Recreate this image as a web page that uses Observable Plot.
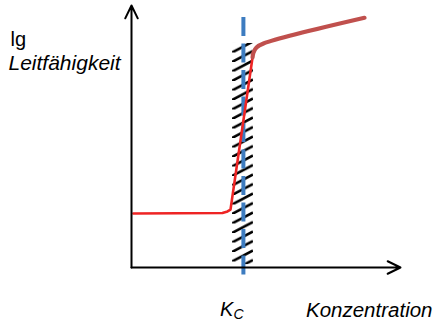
<!DOCTYPE html>
<html><head><meta charset="utf-8">
<script src="https://cdn.jsdelivr.net/npm/d3@7"></script>
<script src="https://cdn.jsdelivr.net/npm/@observablehq/plot@0.6"></script>
<style>html,body{margin:0;padding:0;background:#fff;} svg{display:block;}</style>
</head><body><div id="chart"></div>
<script>
// Conductivity curve (arbitrary units: concentration 0..10, lg conductivity 0..10)
const lowerConc = [0.07, 3.38, 3.57, 3.68, 4.50];
const lowerLg   = [2.06, 2.08, 2.14, 2.21, 8.02];
const upperConc = [4.50, 4.535, 4.647, 4.907, 8.662];
const upperLg   = [8.02, 8.21, 8.40, 8.55, 9.53];
// critical concentration (Kc) and its hatched range
const kc = [4.16];
const kcLg = [9.54, -0.31];
const kcRange = [3.755, 4.535];
const kcRangeLg = [0.11, 8.55];
// axis extents
const axisMax = [10, 10];
// labels
const yLabel1 = "lg";
const yLabel2 = "Leitfähigkeit";
const kcLabel = ["K", "C"];
const xLabel = "Konzentration";

(function () {
const lower = lowerConc.map((c, i) => ({c, v: lowerLg[i]}));
const upper = upperConc.map((c, i) => ({c, v: upperLg[i]}));
const axes = [
  {x1: 0, y1: 0, x2: axisMax[0], y2: 0},
  {x1: 0, y1: 0, x2: 0, y2: axisMax[1]}
];
const font = "Liberation Sans, Arial, sans-serif";

const plot = Plot.plot({
  width: 440, height: 321,
  marginLeft: 131, marginRight: 40, marginTop: 5, marginBottom: 54,
  x: {domain: [0, 10], axis: null},
  y: {domain: [0, 10], axis: null},
  style: {fontFamily: font, background: "#fff", overflow: "visible"},
  marks: [
    Plot.rect([{x1: kcRange[0], x2: kcRange[1], y1: kcRangeLg[0], y2: kcRangeLg[1]}],
      {x1: "x1", x2: "x2", y1: "y1", y2: "y2", fill: "url(#hatch)"}),
    Plot.ruleX(kc, {x: d => d, y1: kcLg[0], y2: kcLg[1], stroke: "#3d7cc0", strokeWidth: 4, strokeDasharray: "19,7.5"}),
    Plot.line(lower, {x: "c", y: "v", stroke: "#ee2424", strokeWidth: 2.6, strokeLinejoin: "round"}),
    Plot.line(upper, {x: "c", y: "v", stroke: "#c0504d", strokeWidth: 4.2, strokeLinejoin: "round", curve: "catmull-rom"}),
    Plot.arrow(axes, {x1: "x1", y1: "y1", x2: "x2", y2: "y2", stroke: "#000", strokeWidth: 2, headLength: 10.7, headAngle: 52}),
    Plot.text([yLabel1], {frameAnchor: "top-left", text: d => d, dx: -121, dy: 40, lineAnchor: "bottom", textAnchor: "start", fontSize: 20, fill: "#000"}),
    Plot.text([yLabel2], {frameAnchor: "top-left", text: d => d, dx: -123, dy: 64, lineAnchor: "bottom", textAnchor: "start", fontSize: 21, fontStyle: "italic", fill: "#000"}),
    Plot.text(kc, {x: d => d, frameAnchor: "bottom", text: () => kcLabel[0], dx: -10, dy: 48, lineAnchor: "bottom", textAnchor: "end", fontSize: 20, fontStyle: "italic", fill: "#000"}),
    Plot.text(kc, {x: d => d, frameAnchor: "bottom", text: () => kcLabel[1], dx: -10, dy: 51, lineAnchor: "bottom", textAnchor: "start", fontSize: 14, fontStyle: "italic", fill: "#000"}),
    Plot.text([xLabel], {frameAnchor: "bottom-right", text: d => d, dx: 32, dy: 49, lineAnchor: "bottom", textAnchor: "end", fontSize: 20.5, fontStyle: "italic", fill: "#000"})
  ]
});

// hatch pattern aligned with the Kc range rectangle
const sx = plot.scale("x"), sy = plot.scale("y");
const left = sx.apply(kcRange[0]), right = sx.apply(kcRange[1]);
const topPx = sy.apply(kcRangeLg[1]);
const w = right - left, h = 9.5, rise = 11;
const ns = "http://www.w3.org/2000/svg";
const defs = document.createElementNS(ns, "defs");
const pat = document.createElementNS(ns, "pattern");
pat.setAttribute("id", "hatch");
pat.setAttribute("patternUnits", "userSpaceOnUse");
pat.setAttribute("x", left); pat.setAttribute("y", topPx);
pat.setAttribute("width", w); pat.setAttribute("height", h);
const bg = document.createElementNS(ns, "rect");
bg.setAttribute("width", w); bg.setAttribute("height", h); bg.setAttribute("fill", "#fff");
pat.appendChild(bg);
for (const c of [h, 2 * h]) {
  const p = document.createElementNS(ns, "path");
  p.setAttribute("d", `M0,${c} L${w},${c - rise}`);
  p.setAttribute("stroke", "#000"); p.setAttribute("stroke-width", 2.6);
  pat.appendChild(p);
}
defs.appendChild(pat);
plot.insertBefore(defs, plot.firstChild);
document.getElementById("chart").appendChild(plot);
})();
</script>
</body></html>
